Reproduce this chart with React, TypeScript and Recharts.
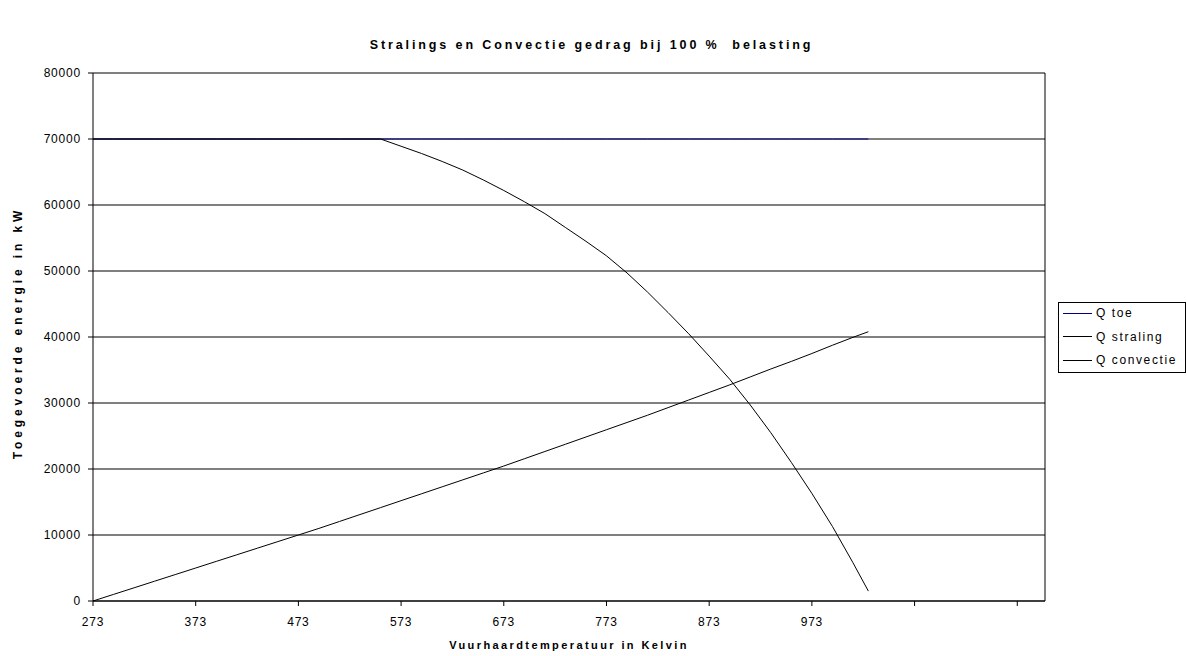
import React from 'react';
import { LineChart, Line, XAxis, YAxis, CartesianGrid, ReferenceLine } from 'recharts';

const temps = [273, 293, 313, 333, 353, 373, 393, 413, 433, 453, 473, 493, 513, 533, 553, 573, 593, 613, 633, 653, 673, 693, 713, 733, 753, 773, 793, 813, 833, 853, 873, 893, 913, 933, 953, 973, 993, 1013, 1028];

const qToe = temps.map(() => 70000);

const qStraling = [70000, 70000, 70000, 70000, 70000, 70000, 70000, 70000, 70000, 70000, 70000, 70000, 70000, 70000, 70000, 68900, 67800, 66600, 65300, 63800, 62200, 60500, 58700, 56600, 54500, 52300, 49700, 46800, 43700, 40500, 37100, 33600, 29700, 25500, 21000, 16300, 11300, 5800, 1500];

const qConvectie = [0, 1000, 2000, 3000, 4000, 5000, 6000, 7000, 8000, 9000, 10000, 11000, 12050, 13100, 14150, 15200, 16250, 17300, 18350, 19400, 20450, 21550, 22650, 23750, 24850, 25950, 27050, 28150, 29300, 30450, 31600, 32750, 33950, 35150, 36300, 37500, 38750, 39950, 40800];

const xTicks = [273, 373, 473, 573, 673, 773, 873, 973, 1073, 1173];
const xLabelMax = 973;
const yTicks = [0, 10000, 20000, 30000, 40000, 50000, 60000, 70000, 80000];

const seriesNames = ['Q toe', 'Q straling', 'Q convectie'];
const seriesColors = ['#000080', '#000000', '#000000'];

const data = temps.map((t, i) => ({
  t,
  toe: qToe[i],
  straling: qStraling[i],
  convectie: qConvectie[i],
}));

const font = 'Arial, "Liberation Sans", sans-serif';

const LegendBox = () => (
  <div
    style={{
      position: 'absolute',
      left: 1058,
      top: 302,
      width: 128,
      height: 71,
      border: '1px solid #000',
      background: '#fff',
      fontFamily: font,
      fontSize: 12,
      letterSpacing: 1.6,
      color: '#000',
      boxSizing: 'border-box',
    }}
  >
    {seriesNames.map((n, i) => (
      <div key={n} style={{ position: 'absolute', left: 4, top: 2 + i * 23.5, height: 16, display: 'flex', alignItems: 'center' }}>
        <div style={{ width: 29, height: 0, borderTop: `1px solid ${seriesColors[i]}` }} />
        <span style={{ marginLeft: 4 }}>{n}</span>
      </div>
    ))}
  </div>
);

export default function App() {
  return (
    <div style={{ position: 'absolute', left: 0, top: 0, width: 1187, height: 656, background: '#fff' }}>
      <LineChart width={1187} height={656} data={data} margin={{ top: 73, right: 142, bottom: 25, left: 33 }}>
        <CartesianGrid horizontal vertical={false} stroke="#000" strokeOpacity={1} />
        <XAxis
          dataKey="t"
          type="number"
          domain={[273, 1200]}
          ticks={xTicks}
          tickFormatter={(v: number) => (v <= xLabelMax ? String(v) : '')}
          height={30}
          tickSize={5}
          tickMargin={11}
          stroke="#000"
          tick={{ fill: '#000', fontSize: 12, fontFamily: font, letterSpacing: 0.8 }}
          allowDataOverflow
        />
        <YAxis
          domain={[0, 80000]}
          ticks={yTicks}
          width={60}
          tickSize={5}
          tickMargin={7}
          stroke="#000"
          tick={{ fill: '#000', fontSize: 12, fontFamily: font, letterSpacing: 0.8 }}
        />
        <ReferenceLine x={1200} stroke="#000" />
        <Line dataKey="toe" name={seriesNames[0]} stroke={seriesColors[0]} dot={false} strokeWidth={1} isAnimationActive={false} />
        <Line dataKey="straling" name={seriesNames[1]} stroke={seriesColors[1]} dot={false} strokeWidth={1} isAnimationActive={false} />
        <Line dataKey="convectie" name={seriesNames[2]} stroke={seriesColors[2]} dot={false} strokeWidth={1} isAnimationActive={false} />
      </LineChart>
      <LegendBox />
      <div
        style={{
          position: 'absolute',
          left: 0,
          width: 1187,
          top: 38,
          textAlign: 'center',
          fontFamily: font,
          fontWeight: 'bold',
          fontSize: 12.5,
          letterSpacing: 2.9,
          whiteSpace: 'pre',
          paddingRight: 4,
          boxSizing: 'border-box',
        }}
      >
        {'Stralings en Convectie gedrag bij 100 %  belasting'}
      </div>
      <div
        style={{
          position: 'absolute',
          left: 569 - 200,
          width: 400,
          top: 639,
          textAlign: 'center',
          fontFamily: font,
          fontWeight: 'bold',
          fontSize: 11,
          letterSpacing: 2.4,
        }}
      >
        Vuurhaardtemperatuur in Kelvin
      </div>
      <div
        style={{
          position: 'absolute',
          left: 18 - 150,
          width: 300,
          top: 334 - 8,
          textAlign: 'center',
          fontFamily: font,
          fontWeight: 'bold',
          fontSize: 12,
          letterSpacing: 3.9,
          transform: 'rotate(-90deg)',
        }}
      >
        Toegevoerde energie in kW
      </div>
    </div>
  );
}
